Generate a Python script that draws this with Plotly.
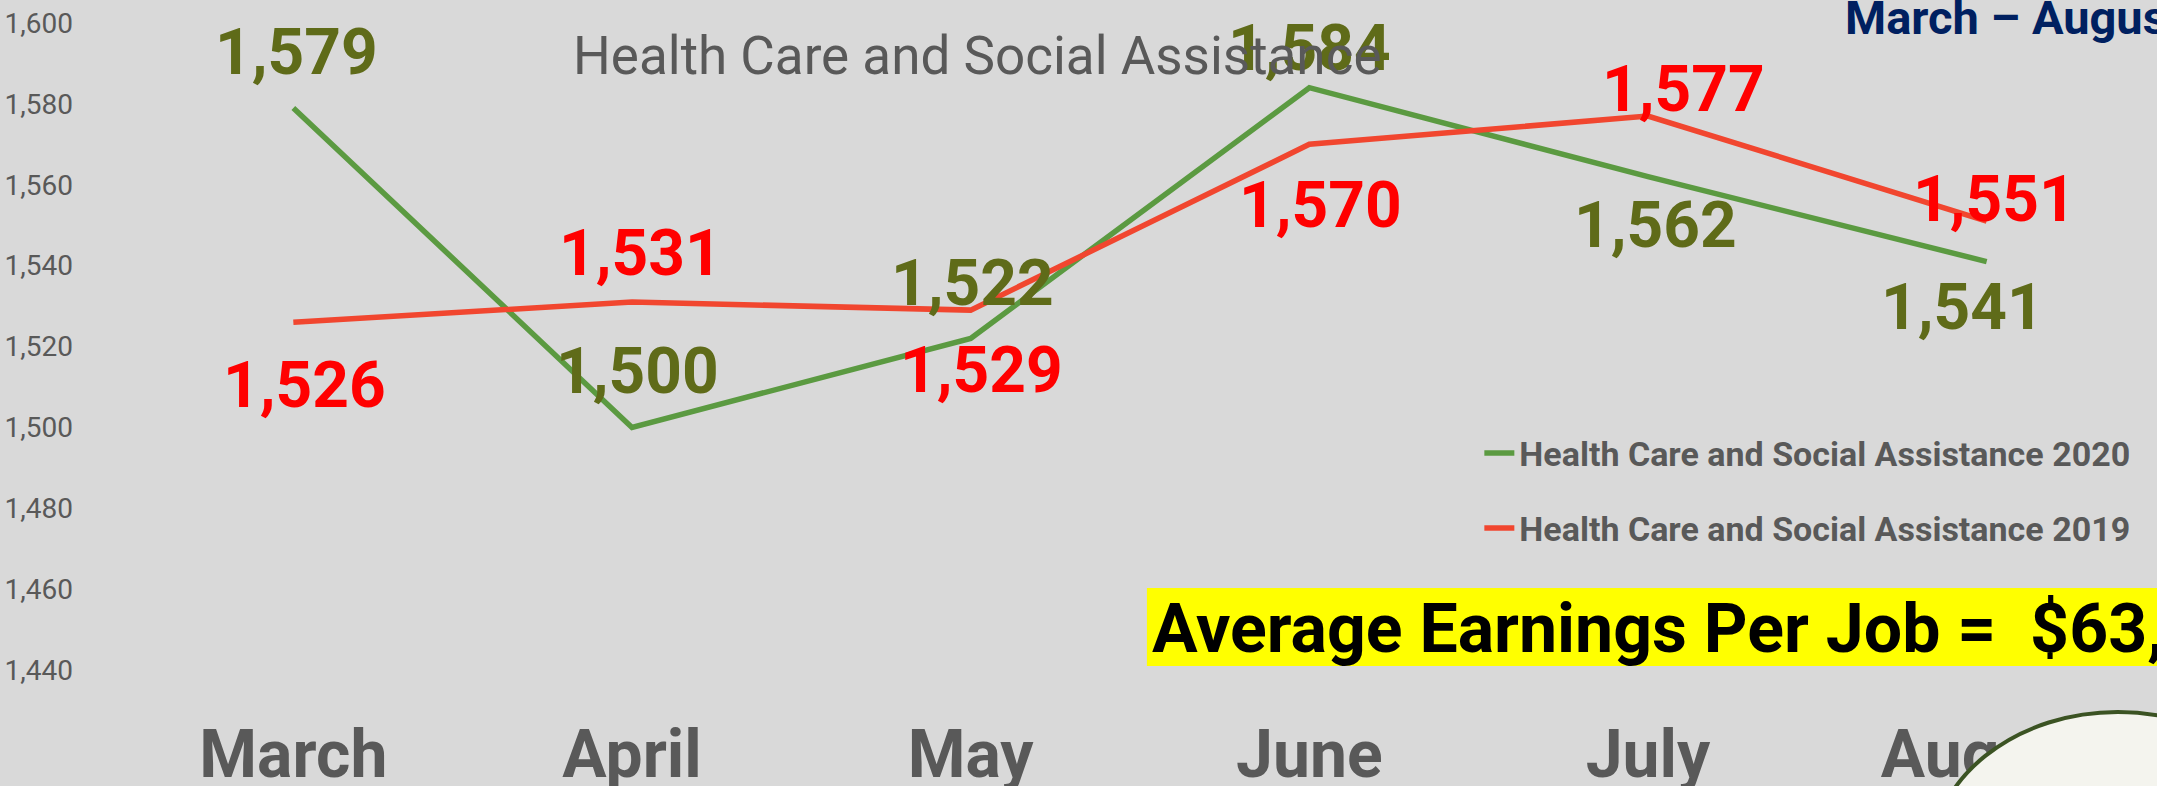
import plotly.graph_objects as go

# ---- data ----
months = ["March", "April", "May", "June", "July", "August"]
jobs_2020 = [1579, 1500, 1522, 1584, 1562, 1541]
jobs_2019 = [1526, 1531, 1529, 1570, 1577, 1551]
series_names = ["Health Care and Social Assistance 2020",
                "Health Care and Social Assistance 2019"]
y_ticks = [1440, 1460, 1480, 1500, 1520, 1540, 1560, 1580, 1600]
chart_title = "Health Care and Social Assistance"
period_label = "March \u2013 August 2020"
earnings_text = "Average Earnings Per Job =\u00a0 $63,"

# ---- styles ----
GREEN_LINE = "#5B9A41"
RED_LINE = "#F1462F"
GREEN_LABEL = "#5F6B19"
RED_LABEL = "#FF0000"
GRAY = "#595959"
BG = "#D9D9D9"
FONT = "Roboto, 'Open Sans', 'DejaVu Sans', sans-serif"

# data-label offsets in px (xshift, yshift)
off_2020 = [(3, 55), (5, 56), (2, 55), (0, 39), (7, -49), (-24, -46)]
off_2019 = [(11, -63), (8, 49), (11, -60), (11, -61), (35, 27), (8, 22)]

fig = go.Figure()
fig.add_trace(go.Scatter(x=months, y=jobs_2020, mode="lines", name=series_names[0],
                         legendgroup="a", line=dict(color=GREEN_LINE, width=5.5),
                         hoverinfo="skip"))
fig.add_trace(go.Scatter(x=months, y=jobs_2019, mode="lines", name=series_names[1],
                         legendgroup="b", line=dict(color=RED_LINE, width=5.5),
                         hoverinfo="skip"))

annotations = []
for vals, offs, col in [(jobs_2020, off_2020, GREEN_LABEL), (jobs_2019, off_2019, RED_LABEL)]:
    for m, v, (dx, dy) in zip(months, vals, offs):
        annotations.append(dict(x=m, y=v, xref="x", yref="y", text=f"{v:,}",
                                showarrow=False, xshift=dx, yshift=dy,
                                xanchor="center", yanchor="middle",
                                font=dict(family=FONT, size=64, color=col, weight="bold")))

annotations.append(dict(x=0.420, y=0.949, xref="paper", yref="paper", text=chart_title,
                        showarrow=False, xanchor="center", yanchor="middle",
                        font=dict(family=FONT, size=53, color=GRAY)))
annotations.append(dict(x=0.846, y=1.008, xref="paper", yref="paper", text=period_label,
                        showarrow=False, xanchor="left", yanchor="middle",
                        font=dict(family=FONT, size=47, color="#002060", weight="bold")))
annotations.append(dict(x=0.505, y=0.064, xref="paper", yref="paper", text=earnings_text,
                        showarrow=False, xanchor="left", yanchor="middle",
                        font=dict(family=FONT, size=68, color="#000000", weight="bold")))

shapes = [
    dict(type="rect", xref="paper", yref="paper", x0=0.5034, x1=1.05, y0=0.0062, y1=0.1267,
         fillcolor="#FFFF00", line=dict(width=0), layer="below"),
    dict(type="circle", xref="paper", yref="paper", x0=0.8890, x1=1.0733, y0=-0.5286, y1=-0.0649,
         fillcolor="#F4F4EE", line=dict(color="#3B5323", width=4), layer="above"),
]

fig.update_layout(
    width=2157, height=786,
    margin=dict(l=124, r=1, t=23, b=116, autoexpand=False),
    paper_bgcolor=BG, plot_bgcolor=BG,
    showlegend=True,
    legend=dict(x=0.667, xanchor="left", y=0.277, yanchor="middle",
                font=dict(family=FONT, size=34, color=GRAY, weight="bold"),
                bgcolor="rgba(0,0,0,0)", tracegroupgap=28, itemwidth=30),
    xaxis=dict(range=[-0.5, 5.5], showgrid=False, zeroline=False, showline=False, ticks="",
               tickfont=dict(family=FONT, size=66, color=GRAY, weight="bold"),
               ticklabelstandoff=40, automargin=False),
    yaxis=dict(range=[1440, 1600], tickvals=y_ticks, tickformat=",", showgrid=False,
               zeroline=False, showline=False, ticks="",
               tickfont=dict(family=FONT, size=28, color=GRAY),
               ticklabelstandoff=50, automargin=False),
    annotations=annotations,
    shapes=shapes,
)

fig.write_html("out.html", config={"displayModeBar": False},
               post_script="document.body.style.margin='0';")
